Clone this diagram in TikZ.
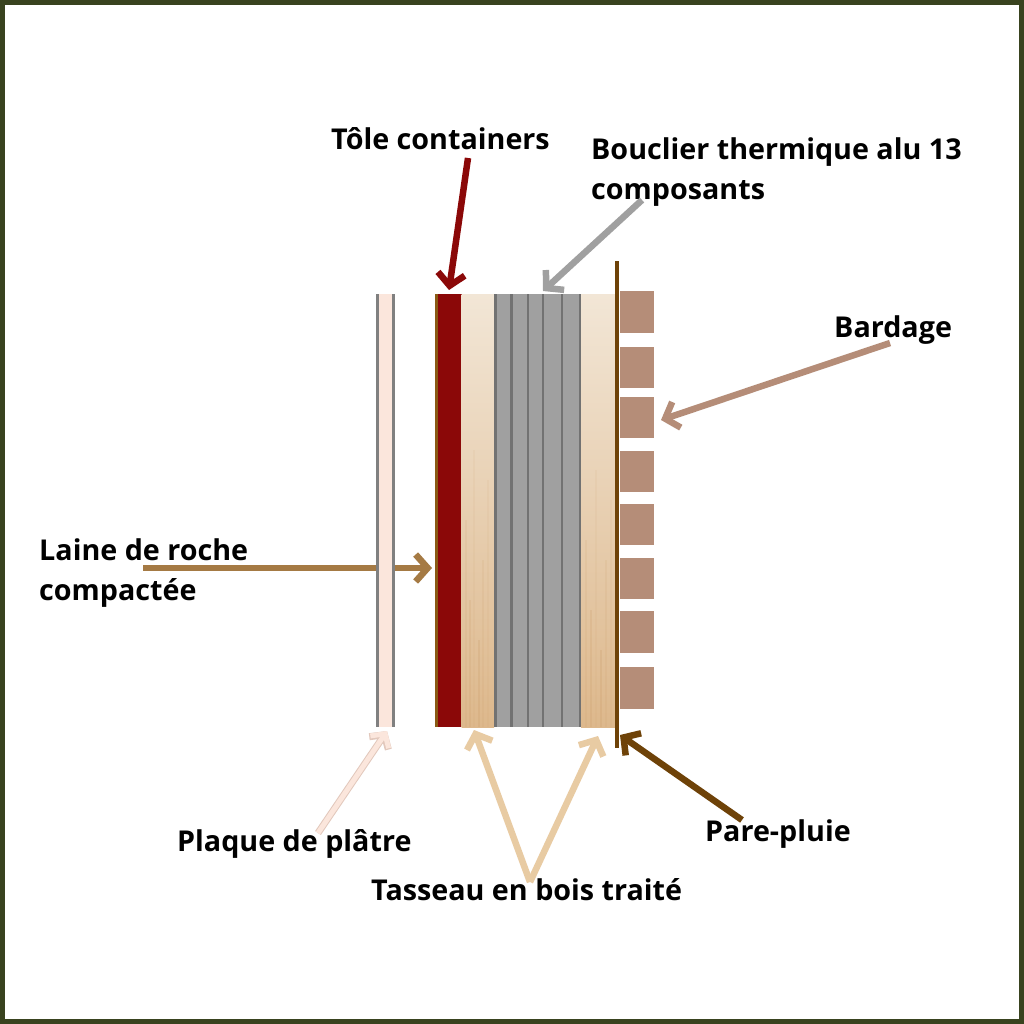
\documentclass[tikz,border=0pt]{standalone}
\usepackage{fontspec}
\setmainfont{Open Sans}
\usetikzlibrary{arrows.meta}
\definecolor{frameolive}{HTML}{39431F}
\definecolor{platre}{HTML}{FBE6DC}
\definecolor{platrebord}{HTML}{E2C8BC}
\definecolor{tole}{HTML}{8B0808}
\definecolor{tolebrun}{HTML}{8A5A14}
\definecolor{alu}{HTML}{A0A0A0}
\definecolor{alufonce}{HTML}{727272}
\definecolor{boisclair}{HTML}{F2E6D6}
\definecolor{boismilieu}{HTML}{EBD5B9}
\definecolor{boisfonce}{HTML}{DDB88C}
\definecolor{veine}{HTML}{C99A66}
\definecolor{bardage}{HTML}{B58D78}
\definecolor{brun}{HTML}{6E4208}
\definecolor{laine}{HTML}{A57A44}
\definecolor{tasseau}{HTML}{E8CBA3}
\tikzset{
  label/.style={font=\bfseries\fontsize{28.7}{40}\selectfont, text=black, inner sep=0pt, align=left},
  fleche/.style={line width=6.5pt, -{Straight Barb[length=12pt, width=27pt, line width=6.5pt]}},
  bois/.style={top color=boisclair, middle color=boismilieu, bottom color=boisfonce, draw=none},
}
\begin{document}
\begin{tikzpicture}[x=1pt, y=-1pt]
  \useasboundingbox (0,0) rectangle (1024,1024);
  \fill[white] (0,0) rectangle (1024,1024);
  \draw[frameolive, line width=5pt] (2.5,2.5) rectangle (1021.5,1021.5);

  % extremites
  \coordinate (toleA) at (468,158);
  \coordinate (toleB) at (449,290);
  \coordinate (aluA) at (642,200);
  \coordinate (aluB) at (543,291);
  \coordinate (bardA) at (890,343);
  \coordinate (bardB) at (661,420);
  \coordinate (laineA) at (143,568);
  \coordinate (laineB) at (432,568);
  \coordinate (platreA) at (318,833);
  \coordinate (platreB) at (387,731);
  \coordinate (tassA) at (530,882);
  \coordinate (tassB) at (474,730);
  \coordinate (tassC) at (598,736);
  \coordinate (pluieA) at (742,820);
  \coordinate (pluieB) at (620,735);

  % laine passe sous le platre
  \draw[fleche, laine] (laineA)--(laineB);

  % plaque de platre
  \fill[platre] (377,294) rectangle (393,727);
  \draw[alu!80!black, line width=3pt] (377.5,294)--(377.5,727);
  \draw[alu!80!black, line width=3pt] (393,294)--(393,727);

  % tole
  \fill[tolebrun] (434.5,294) rectangle (438,727);
  \fill[tole] (438,294) rectangle (461.5,727);

  % tasseaux
  \fill[bois] (461.5,294) rectangle (494,727);
  \fill[bois] (581,294) rectangle (615,727);
  \foreach \x/\yh/\a in {466/520/.12, 470/600/.18, 474/450/.08, 479/640/.22, 483/560/.12, 488/480/.08,
                         586/540/.12, 591/610/.2, 596/470/.08, 601/650/.22, 606/560/.12, 611/500/.08} {
    \draw[veine, opacity=\a, line width=1.5pt] (\x,\yh)--(\x,727);
  }

  % bouclier alu
  \fill[alu] (494,294) rectangle (581,727);
  \foreach \x in {495.5, 511.5, 528, 543, 562, 580} {
    \draw[alufonce, line width=2.5pt] (\x,294)--(\x,727);
  }

  % bardage
  \foreach \yh/\yb in {291/333, 347/388, 397/438, 451/492, 504/545, 558/599, 611/653, 667/709} {
    \fill[bardage] (620,\yh) rectangle (654,\yb);
  }

  % pare-pluie
  \draw[brun, line width=4pt] (616.5,261)--(616.5,748);

  % textes
  \node[label, anchor=west] (tolelbl) at (331,139) {Tôle containers};
  \node[label, anchor=north west] (alulbl) at (591,137) {Bouclier thermique alu 13\\composants};
  \node[label, anchor=west] (bardagelbl) at (834,330) {Bardage};
  \node[label, anchor=north west] (lainelbl) at (39,538) {Laine de roche\\compactée};
  \node[label, anchor=west] (platrelbl) at (177,844) {Plaque de plâtre};
  \node[label, anchor=west] (tasseaulbl) at (371,890) {Tasseau en bois traité};
  \node[label, anchor=west] (pluielbl) at (705,834) {Pare-pluie};

  % fleches
  \draw[fleche, tole] (toleA)--(toleB);
  \draw[fleche, alu] (aluA)--(aluB);
  \draw[fleche, bardage] (bardA)--(bardB);
  \draw[fleche, tasseau] (tassA)--(tassB);
  \draw[fleche, tasseau] (tassA)--(tassC);
  \draw[fleche, brun] (pluieA)--(pluieB);
  \draw[line width=7pt, platrebord, -{Straight Barb[length=10pt, width=23pt, line width=7pt]}] (platreA)--(platreB);
  \draw[line width=5pt, platre, -{Straight Barb[length=10pt, width=22pt, line width=5pt]}] (platreA)--(platreB);
\end{tikzpicture}
\end{document}
